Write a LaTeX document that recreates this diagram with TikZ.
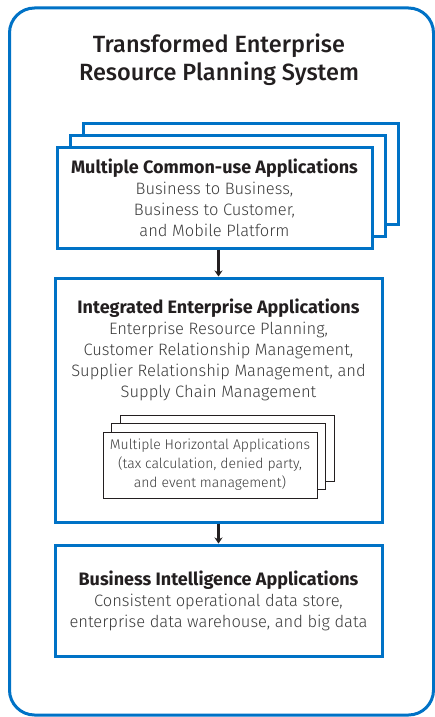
\documentclass[tikz,border=0pt]{standalone}
\usepackage{fontspec}
\setmainfont{Fira Sans}
\newfontfamily\lightfont{Fira Sans Light}
\newfontfamily\mediumfont{Fira Sans Medium}
\usetikzlibrary{arrows.meta,shadows}

\definecolor{erpblue}{RGB}{0,114,198}
\definecolor{erpdark}{RGB}{35,31,32}
\definecolor{erpgrey}{RGB}{60,60,60}

\newcommand{\bodyline}[1]{{\lightfont\mdseries\fontsize{16.5}{21}\selectfont\color{erpgrey}#1}}

\tikzset{
  bluebox/.style={draw=erpblue, line width=3pt, fill=white, inner sep=0pt},
  stackbox/.style={draw=erpdark, line width=1pt, fill=white, align=center,
    minimum width=214pt, minimum height=66pt, inner sep=0pt,
    text=erpgrey, font=\lightfont\fontsize{14}{19}\selectfont,
    double copy shadow={shadow xshift=8.5pt, shadow yshift=8.5pt, draw=erpdark, fill=white}},
  heading/.style={align=center, text=erpdark, font=\fontsize{18}{21}\selectfont\bfseries},
  arrow/.style={-{Stealth[length=6pt,width=8pt]}, line width=2.2pt, draw=erpdark}
}

\begin{document}
\begin{tikzpicture}[x=1pt, y=-1pt]
  \useasboundingbox (0,0) rectangle (435,717);
  % frame and title
  \draw[erpblue, line width=3pt, rounded corners=25pt] (9.5,8) rectangle (433.5,715);
  \node[align=center, text=erpdark, font=\mediumfont\fontsize{23.5}{28}\selectfont] (title) at (219,60)
    {Transformed Enterprise\\Resource Planning System};

  % common-use applications
  \node[bluebox, minimum width=315pt, minimum height=101pt,
    double copy shadow={shadow xshift=13pt, shadow yshift=12pt, draw=erpblue, fill=white}]
    (common) at (214.5,197.5) {};
  \node[heading] (commontext) at (common.center)
    {Multiple Common-use Applications\\
     \bodyline{Business to Business,}\\
     \bodyline{Business to Customer,}\\
     \bodyline{and Mobile Platform}};

  % integrated enterprise applications
  \node[bluebox, minimum width=327pt, minimum height=244pt] (erp) at (218.5,400) {};
  \node[heading] (erptext) at (218.5,350)
    {Integrated Enterprise Applications\\
     \bodyline{Enterprise Resource Planning,}\\
     \bodyline{Customer Relationship Management,}\\
     \bodyline{Supplier Relationship Management, and}\\
     \bodyline{Supply Chain Management}};
  \node[stackbox] (horiz) at (210,465)
    {Multiple Horizontal Applications\\(tax calculation, denied party,\\and event management)};

  % business intelligence
  \node[bluebox, minimum width=327pt, minimum height=111pt] (bi) at (218.5,600.5) {};
  \node[heading] (bitext) at (bi.center)
    {Business Intelligence Applications\\
     \bodyline{Consistent operational data store,}\\
     \bodyline{enterprise data warehouse, and big data}};

  % flow
  \draw[arrow] (erp.north |- common.south) -- (erp.north);
  \draw[arrow] (erp.south) -- (bi.north);
\end{tikzpicture}
\end{document}
